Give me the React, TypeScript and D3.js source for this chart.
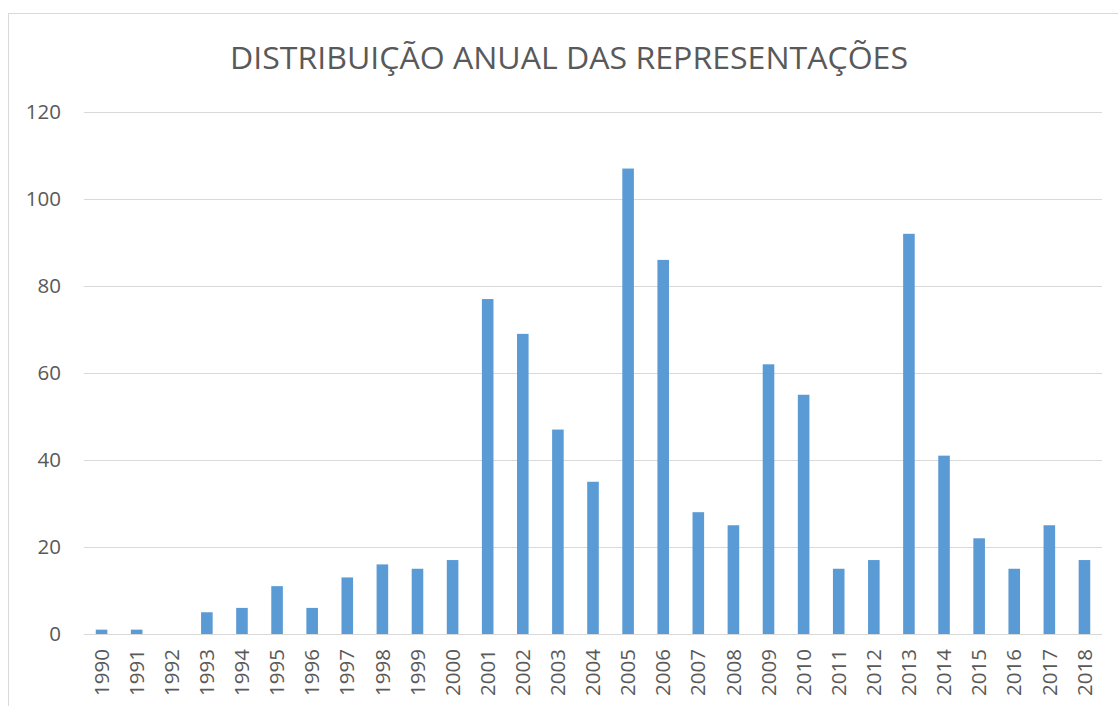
import React from "react";
import * as d3 from "d3";

const years = ["1990","1991","1992","1993","1994","1995","1996","1997","1998","1999","2000","2001","2002","2003","2004","2005","2006","2007","2008","2009","2010","2011","2012","2013","2014","2015","2016","2017","2018"];
const values = [1,1,0,5,6,11,6,13,16,15,17,77,69,47,35,107,86,28,25,62,55,15,17,92,41,22,15,25,17];
const yTicks = [0,20,40,60,80,100,120];
const title = "DISTRIBUIÇÃO ANUAL DAS REPRESENTAÇÕES";

export default function App() {
  const W = 1118, H = 706;
  const left = 84, right = 1102, top = 112, bottom = 634;
  const x = d3.scaleBand<string>().domain(years).range([left, right]).paddingInner(0.67).paddingOuter(0.335);
  const y = d3.scaleLinear().domain([0, 120]).range([bottom, top]);
  const font = "'Open Sans', sans-serif";
  const textColor = "#595959";
  return (
    <svg width={W} height={H} style={{ position: "absolute", left: 0, top: 0 }}>
      <rect x={0} y={0} width={W} height={H} fill="#fff" />
      <rect x={8.5} y={13.5} width={W + 20} height={H + 20} fill="none" stroke="#d9d9d9" strokeWidth={1} />
      <text x={569} y={69} textAnchor="middle" fontFamily={font} fontSize={31} fill={textColor} textLength={678} lengthAdjust="spacingAndGlyphs">{title}</text>
      {yTicks.map(t => (
        <g key={t}>
          <line x1={left} x2={right} y1={Math.round(y(t)) + 0.5} y2={Math.round(y(t)) + 0.5} stroke="#d9d9d9" strokeWidth={1} />
          <text x={61} y={y(t)} dy="0.35em" textAnchor="end" fontFamily={font} fontSize={20.5} fill={textColor}>{t}</text>
        </g>
      ))}
      {years.map((yr, i) => (
        <rect key={yr} x={x(yr)} y={y(values[i])} width={x.bandwidth()} height={bottom - y(values[i])} fill="#5b9bd5" />
      ))}
      <line x1={left} x2={right} y1={bottom + 0.5} y2={bottom + 0.5} stroke="#d9d9d9" strokeWidth={1} />
      {years.map(yr => {
        const cx = (x(yr) as number) + x.bandwidth() / 2;
        return (
          <text key={yr} transform={`translate(${cx},649) rotate(-90)`} dy="0.35em" textAnchor="end" fontFamily={font} fontSize={20.5} fill={textColor}>{yr}</text>
        );
      })}
    </svg>
  );
}
